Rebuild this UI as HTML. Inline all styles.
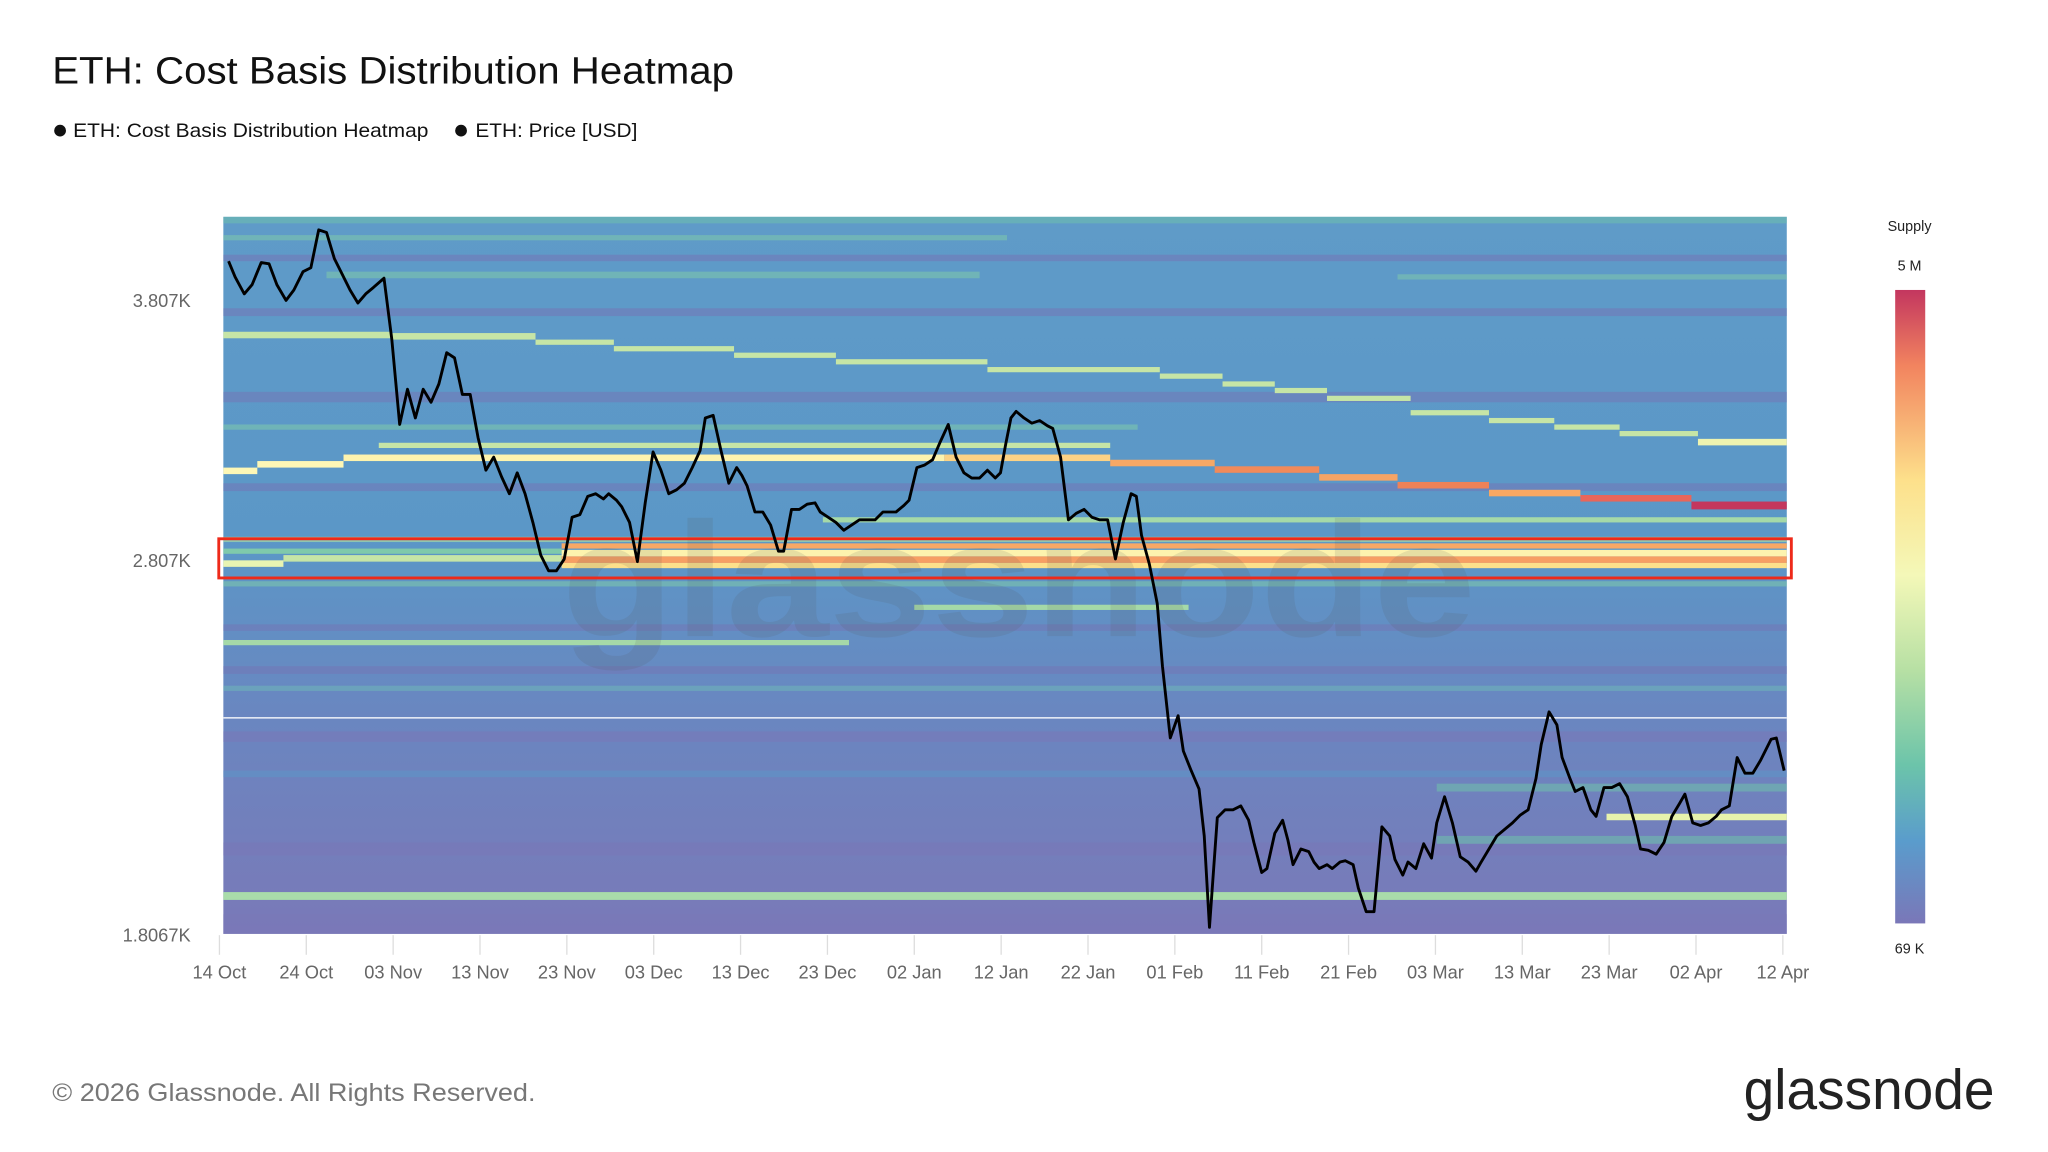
<!DOCTYPE html>
<html><head><meta charset="utf-8"><style>
html,body{margin:0;padding:0;background:#fff;}
svg{display:block;font-family:"Liberation Sans",sans-serif;}
</style></head><body>
<svg width="2048" height="1152" viewBox="0 0 1568 882" xmlns="http://www.w3.org/2000/svg">
<defs>
<linearGradient id="bg" x1="0" y1="0" x2="0" y2="1">
<stop offset="0" stop-color="#5f9bc8"/>
<stop offset="0.45" stop-color="#5b97c7"/>
<stop offset="0.7" stop-color="#6a86c0"/>
<stop offset="1" stop-color="#7a79b8"/>
</linearGradient>
<linearGradient id="cb" x1="0" y1="0" x2="0" y2="1">
<stop offset="0" stop-color="#c3365f"/>
<stop offset="0.12" stop-color="#f2845f"/>
<stop offset="0.3" stop-color="#fde08b"/>
<stop offset="0.45" stop-color="#f4f8b8"/>
<stop offset="0.6" stop-color="#b7e0a4"/>
<stop offset="0.75" stop-color="#6cc4aa"/>
<stop offset="0.87" stop-color="#5a9ccc"/>
<stop offset="1" stop-color="#7a77b8"/>
</linearGradient>
</defs>
<text x="40" y="64" font-size="29" fill="#111" textLength="522" lengthAdjust="spacingAndGlyphs">ETH: Cost Basis Distribution Heatmap</text>
<circle cx="46" cy="100" r="4.5" fill="#111"/><text x="56" y="105" font-size="15" fill="#111" textLength="272" lengthAdjust="spacingAndGlyphs">ETH: Cost Basis Distribution Heatmap</text>
<circle cx="353" cy="100" r="4.5" fill="#111"/><text x="364" y="105" font-size="15" fill="#111" textLength="124" lengthAdjust="spacingAndGlyphs">ETH: Price [USD]</text>

<rect x="171" y="166" width="1197" height="549" fill="url(#bg)"/>
<g opacity="0.55">
<rect x="171" y="166" width="1197" height="5" fill="#6fc0ae"/>
<rect x="171" y="180" width="600" height="4" fill="#7fc9ab"/>
<rect x="171" y="195" width="1197" height="5" fill="#7475b6"/>
<rect x="250" y="208" width="500" height="5" fill="#80cbaa"/>
<rect x="1070" y="210" width="298" height="4" fill="#7fc9ab"/>
<rect x="171" y="236" width="1197" height="6" fill="#7477b7"/>
<rect x="171" y="300" width="1197" height="8" fill="#7477b7"/>
<rect x="171" y="325" width="700" height="4" fill="#7fcbab"/>
<rect x="171" y="370" width="1197" height="6" fill="#7477b7"/>
<rect x="171" y="445" width="1197" height="4" fill="#7fcbab"/>
<rect x="171" y="478" width="1197" height="5" fill="#7477b7"/>
<rect x="171" y="510" width="1197" height="6" fill="#7477b7"/>
<rect x="171" y="525" width="1197" height="4" fill="#6fb8b8"/>
<rect x="171" y="560" width="1197" height="8" fill="#7a78b8"/>
<rect x="171" y="590" width="1197" height="5" fill="#5d96c8"/>
<rect x="171" y="645" width="1197" height="10" fill="#7a78b8"/>
<rect x="171" y="700" width="1197" height="15" fill="#7a78b8"/>
<rect x="1100" y="600" width="268" height="6" fill="#6fc3ab"/>
<rect x="1100" y="640" width="268" height="6" fill="#6fc3ab"/>
</g>
<g fill="#c6e5a6">
<rect x="171" y="254" width="129" height="5"/>
<rect x="300" y="255" width="110" height="5"/>
<rect x="410" y="260" width="60" height="4"/>
<rect x="470" y="265" width="92" height="4"/>
<rect x="562" y="270" width="78" height="4"/>
<rect x="640" y="275" width="116" height="4"/>
<rect x="756" y="281" width="132" height="4"/>
<rect x="888" y="286" width="48" height="4"/>
<rect x="936" y="292" width="40" height="4"/>
<rect x="976" y="297" width="40" height="4"/>
<rect x="1016" y="303" width="64" height="4"/>
<rect x="1080" y="314" width="60" height="4"/>
<rect x="1140" y="320" width="50" height="4"/>
<rect x="1190" y="325" width="50" height="4"/>
<rect x="1240" y="330" width="60" height="4"/>
<rect x="1300" y="336" width="68" height="5" fill="#eef3b0"/>
<rect x="290" y="339" width="560" height="4"/>
<rect x="630" y="396" width="738" height="4" fill="#a5d9a8"/>
<rect x="700" y="463" width="210" height="4" fill="#a5d9a8"/>
<rect x="171" y="490" width="479" height="4" fill="#a5d9a8"/>
<rect x="171" y="683" width="1197" height="6" fill="#a9dcaa"/>
<rect x="1230" y="623" width="138" height="5" fill="#e7f2ac"/>
<rect x="171" y="411" width="1197" height="4" fill="#a5d9a8" opacity="0.7"/>
</g>
<rect x="171" y="358" width="26" height="5" fill="#fdf7b6"/>
<rect x="197" y="353" width="66" height="5" fill="#fdf7b6"/>
<rect x="263" y="348" width="460" height="5" fill="#fdf3ae"/>
<rect x="723" y="348" width="127" height="5" fill="#fcd285"/>
<rect x="850" y="352" width="80" height="5" fill="#f7a865"/>
<rect x="930" y="357" width="80" height="5" fill="#f08a5a"/>
<rect x="1010" y="363" width="60" height="5" fill="#f6a465"/>
<rect x="1070" y="369" width="70" height="5" fill="#ee8258"/>
<rect x="1140" y="375" width="70" height="5" fill="#f8a863"/>
<rect x="1210" y="379" width="85" height="5" fill="#e8665a"/>
<rect x="1295" y="384" width="73" height="6" fill="#c4375d"/>
<rect x="171" y="420" width="259" height="4" fill="#7fc9ab"/>
<rect x="171" y="429" width="46" height="5" fill="#e8f4b2"/>
<rect x="217" y="425" width="213" height="5" fill="#c6e5a6"/>
<rect x="430" y="416" width="938" height="4" fill="#f7a865"/>
<rect x="430" y="421" width="938" height="5" fill="#fdf3ae"/>
<rect x="430" y="426" width="938" height="5" fill="#f79f63"/>
<rect x="430" y="431" width="938" height="4" fill="#fde08b"/>
<rect x="171" y="549" width="1197" height="1.2" fill="#fff" opacity="0.85"/>
<text x="430" y="487" font-size="125" fill="#555" opacity="0.13" font-weight="bold" textLength="700" lengthAdjust="spacingAndGlyphs">glassnode</text>
<rect x="167.5" y="412.5" width="1204" height="30" fill="none" stroke="#ee2a1a" stroke-width="2.2"/>

<polyline fill="none" stroke="#000" stroke-width="2.2" stroke-linejoin="round" points="175,200 180,212 187,225 193,218 200,201 206,202 212,218 219,230 225,222 232,208 238,205 244,176 250,178 256,198 262,210 268,222 274,232 280,225 286,220 294,213 300,260 306,325 312,298 318,320 324,298 330,308 336,294 342,270 348,274 354,302 360,302 366,335 372,360 378,350 384,365 390,378 396,362 402,378 408,400 414,425 420,437 426,437 432,428 438,396 444,394 450,380 456,378 462,382 466,378 472,383 476,388 482,400 488,430 494,385 500,346 506,360 512,378 518,375 524,370 530,358 536,345 540,320 546,318 552,345 558,370 564,358 568,364 572,372 578,392 584,392 590,402 596,422 600,422 606,390 612,390 618,386 624,385 628,392 634,396 640,400 646,406 652,402 658,398 664,398 670,398 676,392 680,392 686,392 692,387 696,383 702,358 708,356 714,352 720,338 726,325 732,350 738,362 744,366 750,366 756,360 762,366 766,362 770,340 774,320 778,315 784,320 790,324 796,322 802,326 806,328 812,350 818,398 824,393 830,390 836,396 842,398 848,398 854,428 860,400 866,378 870,380 874,410 880,432 886,462 890,510 896,565 902,548 906,575 912,590 918,604 922,640 926,710 932,626 938,620 944,620 950,617 956,628 960,645 966,668 970,665 976,638 982,628 986,643 990,662 996,650 1002,652 1006,660 1010,665 1016,662 1020,665 1026,660 1030,659 1036,662 1040,680 1046,698 1052,698 1058,633 1064,640 1068,658 1074,670 1078,660 1084,665 1090,646 1096,657 1100,630 1106,610 1112,630 1118,656 1124,660 1130,667 1134,660 1140,650 1146,640 1152,635 1158,630 1164,624 1170,620 1176,596 1180,570 1186,545 1192,555 1196,580 1202,596 1206,606 1212,603 1218,620 1222,625 1228,603 1234,603 1240,600 1246,610 1252,632 1256,650 1262,651 1268,654 1274,645 1280,625 1286,615 1290,608 1296,630 1302,632 1308,630 1314,625 1318,620 1324,617 1330,580 1336,592 1342,592 1348,582 1356,566 1360,565 1366,590"/>

<g font-size="14" fill="#666" text-anchor="end">
<text x="146" y="235">3.807K</text>
<text x="146" y="434">2.807K</text>
<text x="146" y="721">1.8067K</text>
</g>
<g stroke="#ddd" stroke-width="1">
<line x1="168" y1="716" x2="168" y2="731"/><line x1="234.5" y1="716" x2="234.5" y2="731"/><line x1="301" y1="716" x2="301" y2="731"/><line x1="367.5" y1="716" x2="367.5" y2="731"/><line x1="434" y1="716" x2="434" y2="731"/><line x1="500.5" y1="716" x2="500.5" y2="731"/><line x1="567" y1="716" x2="567" y2="731"/><line x1="633.5" y1="716" x2="633.5" y2="731"/><line x1="700" y1="716" x2="700" y2="731"/><line x1="766.5" y1="716" x2="766.5" y2="731"/><line x1="833" y1="716" x2="833" y2="731"/><line x1="899.5" y1="716" x2="899.5" y2="731"/><line x1="966" y1="716" x2="966" y2="731"/><line x1="1032.5" y1="716" x2="1032.5" y2="731"/><line x1="1099" y1="716" x2="1099" y2="731"/><line x1="1165.5" y1="716" x2="1165.5" y2="731"/><line x1="1232" y1="716" x2="1232" y2="731"/><line x1="1298.5" y1="716" x2="1298.5" y2="731"/><line x1="1365" y1="716" x2="1365" y2="731"/>
</g>
<g font-size="14" fill="#666" text-anchor="middle">
<text x="168" y="749">14 Oct</text><text x="234.5" y="749">24 Oct</text><text x="301" y="749">03 Nov</text><text x="367.5" y="749">13 Nov</text><text x="434" y="749">23 Nov</text><text x="500.5" y="749">03 Dec</text><text x="567" y="749">13 Dec</text><text x="633.5" y="749">23 Dec</text><text x="700" y="749">02 Jan</text><text x="766.5" y="749">12 Jan</text><text x="833" y="749">22 Jan</text><text x="899.5" y="749">01 Feb</text><text x="966" y="749">11 Feb</text><text x="1032.5" y="749">21 Feb</text><text x="1099" y="749">03 Mar</text><text x="1165.5" y="749">13 Mar</text><text x="1232" y="749">23 Mar</text><text x="1298.5" y="749">02 Apr</text><text x="1365" y="749">12 Apr</text>
</g>
<text x="1462" y="177" font-size="11" fill="#222" text-anchor="middle">Supply</text>
<text x="1462" y="207" font-size="11" fill="#222" text-anchor="middle">5 M</text>
<rect x="1451" y="222" width="23" height="485" fill="url(#cb)"/>
<text x="1462" y="730" font-size="11" fill="#222" text-anchor="middle">69 K</text>
<text x="40" y="843" font-size="19" fill="#777" textLength="370" lengthAdjust="spacingAndGlyphs">© 2026 Glassnode. All Rights Reserved.</text>
<text x="1335" y="849" font-size="43" fill="#222" textLength="192" lengthAdjust="spacingAndGlyphs">glassnode</text>
</svg>
</body></html>
